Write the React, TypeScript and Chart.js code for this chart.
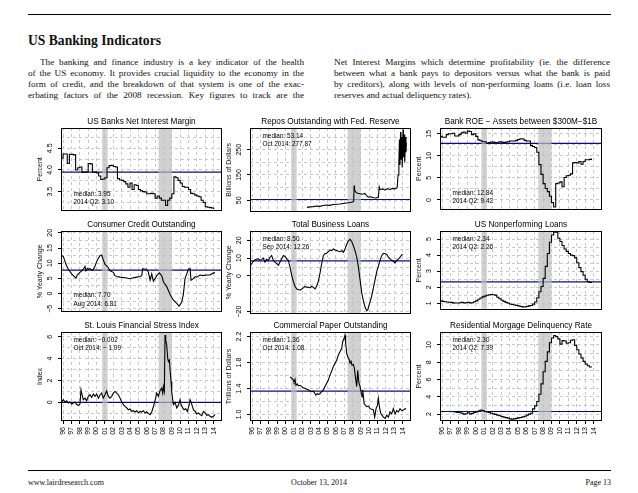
import React, { useEffect, useRef } from "react";
import { Chart, registerables } from "chart.js";
Chart.register(...registerables);

// ---------------- data ----------------
const tickYears = [1996, 1997, 1998, 1999, 2000, 2001, 2002, 2003, 2004, 2005, 2006, 2007, 2008, 2009, 2010, 2011, 2012, 2013, 2014];
const recessionStarts = [2001.17, 2007.92];
const recessionEnds = [2001.83, 2009.5];

// US Banks Net Interest Margin (quarterly, from 1996 Q2)
const nimStart = 1996.25;
const nimValues = [4.28, 4.37, 4.37, 4.15, 4.36, 4.36, 4.35, 4.0, 4.05, 4.07, 3.95, 3.95, 3.96, 4.15, 4.14, 3.95, 3.95, 3.93, 3.86, 3.78, 3.79, 3.82, 4.05, 4.1, 4.11, 4.08, 4.07, 3.8, 3.77, 3.76, 3.73, 3.68, 3.6, 3.7, 3.55, 3.66, 3.64, 3.55, 3.52, 3.5, 3.49, 3.45, 3.45, 3.46, 3.45, 3.35, 3.4, 3.35, 3.3, 3.3, 3.18, 3.3, 3.35, 3.45, 3.84, 3.82, 3.76, 3.7, 3.62, 3.6, 3.6, 3.55, 3.46, 3.45, 3.42, 3.4, 3.38, 3.3, 3.25, 3.15, 3.14, 3.13, 3.12, 3.1];
const nimYLabels = [3.5, 4.0, 4.5];

// Repos Outstanding with Fed. Reserve
const reposYears = [2003.05, 2003.4, 2003.8, 2004.2, 2004.6, 2005.0, 2005.4, 2005.8, 2006.2, 2006.6, 2007.0, 2007.4, 2007.8, 2008.2, 2008.5, 2008.65, 2008.7, 2008.75, 2008.9, 2009.1, 2009.4, 2009.7, 2010.0, 2010.2, 2010.4, 2010.7, 2011.0, 2011.3, 2011.6, 2011.7, 2011.8, 2012.1, 2012.4, 2012.7, 2013.0, 2013.3, 2013.6, 2013.85, 2013.95, 2014.05, 2014.12, 2014.18, 2014.25, 2014.3, 2014.4, 2014.45, 2014.55, 2014.6, 2014.7, 2014.75, 2014.85, 2014.9, 2014.95];
const reposValues = [22, 24, 25, 27, 26, 29, 31, 30, 33, 34, 35, 37, 39, 41, 43, 46, 108, 92, 82, 78, 76, 74, 77, 68, 62, 64, 60, 59, 62, 103, 92, 95, 91, 96, 93, 97, 95, 100, 150, 200, 290, 190, 320, 210, 300, 180, 330, 220, 310, 200, 300, 240, 278];
const reposYLabels = [50, 150, 250];

// Bank ROE - Assets between $300M-$1B (quarterly)
const roeStart = 1996.25;
const roeValues = [14.4, 14.2, 14.2, 14.8, 15.0, 15.0, 15.1, 14.5, 14.5, 14.8, 15.2, 15.4, 15.1, 15.6, 15.5, 14.8, 15.0, 14.4, 13.6, 13.4, 13.2, 13.2, 12.85, 13.0, 13.1, 13.1, 13.0, 13.0, 13.2, 13.1, 13.0, 13.1, 13.2, 13.35, 13.35, 13.35, 13.5, 13.7, 13.85, 13.8, 13.5, 13.35, 13.35, 12.3, 12.1, 11.9, 10.8, 8.0, 5.8, 3.7, 2.6, 1.9, 0.85, -0.6, -1.6, 3.7, 3.85, 4.1, 3.0, 5.1, 5.5, 5.6, 5.9, 8.4, 8.5, 8.4, 8.7, 8.1, 8.7, 9.1, 9.1, 9.2, 9.42];
const roeYLabels = [0, 5, 10, 15];

// Consumer Credit Outstanding (% yearly change)
const ccYears = [1996.25, 1996.53, 1996.73, 1996.93, 1997.13, 1997.33, 1997.53, 1997.73, 1997.92, 1998.04, 1998.2, 1998.44, 1998.72, 1998.92, 1999.12, 1999.24, 1999.4, 1999.52, 1999.72, 1999.92, 2000.12, 2000.32, 2000.52, 2000.72, 2000.92, 2001.11, 2001.31, 2001.51, 2001.71, 2001.91, 2002.11, 2002.51, 2002.71, 2002.91, 2003.31, 2003.71, 2004.1, 2004.5, 2004.9, 2005.3, 2005.7, 2005.9, 2006.02, 2006.3, 2006.5, 2006.7, 2006.9, 2007.1, 2007.29, 2007.49, 2007.69, 2008.01, 2008.29, 2008.49, 2008.89, 2009.29, 2009.69, 2010.09, 2010.36, 2010.68, 2010.88, 2011.08, 2011.28, 2011.48, 2011.68, 2011.8, 2012.08, 2012.28, 2012.48, 2012.88, 2013.28, 2013.67, 2014.07, 2014.47, 2014.67];
const ccValues = [12.7, 12.2, 10.6, 9.1, 8.0, 7.2, 6.5, 5.9, 5.4, 5.1, 6.1, 6.8, 7.5, 8.0, 8.9, 7.5, 8.3, 8.0, 8.2, 7.7, 8.0, 9.1, 10.6, 11.7, 12.5, 12.7, 11.1, 9.6, 9.1, 8.5, 7.5, 7.0, 5.9, 5.6, 5.4, 5.3, 5.1, 4.9, 5.2, 5.4, 5.6, 5.9, 8.2, 8.0, 8.0, 7.0, 4.4, 6.5, 4.1, 4.9, 5.9, 6.8, 5.9, 3.9, 2.3, -0.3, -2.2, -3.2, -4.1, -2.9, -0.3, 4.9, 6.5, 8.0, 8.3, 4.4, 4.9, 5.6, 5.4, 6.1, 5.9, 6.1, 6.1, 6.8, 6.81];
const ccYLabels = [-5, 0, 5, 10, 15, 20];

// Total Business Loans (% yearly change)
const blYears = [1996.33, 1996.57, 1996.85, 1997.25, 1997.45, 1997.65, 1997.84, 1998.04, 1998.24, 1998.44, 1998.64, 1998.84, 1999.04, 1999.24, 1999.44, 1999.64, 1999.84, 2000.04, 2000.24, 2000.44, 2000.64, 2000.84, 2001.03, 2001.23, 2001.43, 2001.63, 2001.83, 2002.03, 2002.23, 2002.43, 2002.63, 2002.83, 2003.03, 2003.23, 2003.43, 2003.63, 2003.83, 2004.03, 2004.22, 2004.42, 2004.62, 2004.82, 2005.02, 2005.22, 2005.42, 2005.62, 2005.82, 2006.02, 2006.22, 2006.42, 2006.62, 2006.82, 2007.02, 2007.22, 2007.41, 2007.61, 2007.81, 2008.01, 2008.21, 2008.41, 2008.61, 2008.81, 2009.01, 2009.21, 2009.41, 2009.61, 2009.81, 2010.01, 2010.21, 2010.33, 2010.52, 2010.8, 2011.0, 2011.2, 2011.4, 2011.6, 2011.8, 2012.0, 2012.2, 2012.4, 2012.6, 2012.8, 2012.99, 2013.19, 2013.39, 2013.59, 2013.79, 2014.0, 2014.19, 2014.39, 2014.51];
const blValues = [6.0, 7.8, 9.1, 9.6, 8.7, 9.3, 10.0, 7.8, 9.3, 8.7, 10.5, 11.5, 8.7, 7.8, 6.9, 6.0, 7.8, 9.6, 11.5, 10.9, 9.6, 8.7, 5.1, 0.5, -3.1, -5.8, -7.3, -7.6, -8.0, -7.3, -6.7, -5.8, -6.4, -6.2, -6.7, -5.8, -6.4, -7.3, -5.8, -3.1, 1.5, 6.9, 11.5, 12.4, 12.7, 13.6, 14.5, 14.2, 15.1, 14.5, 14.2, 13.8, 13.6, 14.2, 13.3, 15.1, 17.8, 19.6, 20.5, 19.3, 16.9, 14.2, 10.5, 5.1, -2.2, -9.5, -14.0, -17.6, -19.5, -19.1, -15.8, -11.3, -6.7, -2.2, 2.4, 5.5, 8.7, 11.5, 12.7, 12.4, 12.0, 10.5, 9.6, 8.7, 8.2, 7.3, 8.7, 9.6, 10.5, 11.8, 12.26];
const blYLabels = [-20, 0, 10, 20];

// US Nonperforming Loans (quarterly)
const nplStart = 1996.25;
const nplValues = [1.15, 1.12, 1.1, 1.08, 1.07, 1.06, 1.03, 1.02, 1.02, 1.04, 1.06, 1.03, 1.04, 1.06, 1.03, 1.04, 1.1, 1.15, 1.25, 1.33, 1.4, 1.45, 1.5, 1.53, 1.54, 1.53, 1.51, 1.38, 1.28, 1.19, 1.12, 1.06, 1.02, 0.96, 0.93, 0.9, 0.87, 0.84, 0.8, 0.78, 0.77, 0.8, 0.84, 0.86, 0.95, 1.08, 1.35, 1.72, 2.05, 2.55, 3.3, 4.1, 4.8, 5.25, 5.42, 5.42, 5.05, 4.85, 4.6, 4.38, 4.23, 4.1, 4.0, 3.97, 3.83, 3.52, 3.22, 2.97, 2.75, 2.5, 2.35, 2.3, 2.26];
const nplYLabels = [1, 2, 3, 4, 5];

// St. Louis Financial Stress Index
const stressYears = [1996.33, 1996.53, 1996.73, 1996.93, 1997.13, 1997.33, 1997.53, 1997.73, 1997.92, 1998.12, 1998.32, 1998.52, 1998.64, 1998.72, 1998.92, 1999.12, 1999.32, 1999.52, 1999.72, 1999.92, 2000.12, 2000.32, 2000.52, 2000.72, 2000.92, 2001.11, 2001.31, 2001.51, 2001.71, 2001.91, 2002.11, 2002.31, 2002.51, 2002.71, 2002.91, 2003.11, 2003.31, 2003.51, 2003.71, 2003.91, 2004.1, 2004.3, 2004.5, 2004.7, 2004.9, 2005.1, 2005.3, 2005.5, 2005.7, 2005.9, 2006.1, 2006.3, 2006.5, 2006.7, 2006.9, 2007.1, 2007.37, 2007.57, 2007.69, 2007.89, 2008.09, 2008.29, 2008.41, 2008.49, 2008.61, 2008.69, 2008.77, 2008.89, 2009.01, 2009.09, 2009.21, 2009.29, 2009.41, 2009.49, 2009.61, 2009.69, 2009.89, 2010.09, 2010.29, 2010.48, 2010.6, 2010.8, 2010.96, 2011.16, 2011.36, 2011.56, 2011.68, 2011.8, 2011.96, 2012.08, 2012.28, 2012.48, 2012.68, 2012.88, 2013.08, 2013.28, 2013.48, 2013.67, 2013.87, 2014.07, 2014.27, 2014.47, 2014.67];
const stressValues = [0.03, 0.24, 0.03, 0.15, -0.06, 0.03, -0.15, -0.06, 0.03, -0.2, -0.27, -0.15, 1.15, 0.85, 0.24, 0.39, 0.15, 0.55, 0.7, 0.45, 0.76, 0.55, 0.76, 0.39, 0.7, 0.85, 0.39, 0.7, 1.06, 0.55, 0.39, 0.55, 0.85, 1.0, 0.85, 0.7, 0.39, 0.03, -0.2, -0.36, -0.5, -0.67, -0.6, -0.82, -0.76, -0.88, -0.76, -0.97, -0.82, -0.88, -0.76, -0.97, -0.88, -1.0, -1.12, -0.88, -0.2, 0.4, 0.85, 0.55, 1.06, 1.3, 0.85, 1.45, 1.0, 6.15, 5.7, 5.24, 4.0, 3.73, 3.88, 2.97, 1.9, 1.0, 0.24, -0.2, 0.0, -0.5, -0.27, 0.24, -0.2, -0.5, -0.67, -0.58, -0.82, -0.27, 0.24, 0.03, -0.36, -0.67, -0.82, -1.06, -0.97, -1.12, -1.21, -0.82, -0.97, -1.18, -1.12, -1.27, -1.36, -1.27, -1.09];
const stressYLabels = [0, 2, 4, 6];

// Commercial Paper Outstanding (trillions)
const cpYears = [2001.03, 2001.23, 2001.43, 2001.51, 2001.63, 2001.75, 2001.91, 2002.03, 2002.23, 2002.43, 2002.63, 2002.83, 2003.03, 2003.23, 2003.43, 2003.63, 2003.83, 2004.03, 2004.14, 2004.3, 2004.42, 2004.62, 2004.82, 2005.02, 2005.22, 2005.42, 2005.62, 2005.82, 2006.02, 2006.22, 2006.42, 2006.62, 2006.82, 2007.02, 2007.22, 2007.33, 2007.49, 2007.61, 2007.69, 2007.81, 2007.93, 2008.13, 2008.21, 2008.33, 2008.45, 2008.61, 2008.73, 2008.85, 2009.01, 2009.13, 2009.25, 2009.41, 2009.53, 2009.65, 2009.73, 2009.89, 2010.05, 2010.21, 2010.41, 2010.6, 2010.8, 2011.0, 2011.16, 2011.32, 2011.48, 2011.6, 2011.72, 2011.88, 2012.04, 2012.2, 2012.4, 2012.6, 2012.8, 2012.99, 2013.19, 2013.39, 2013.59, 2013.79, 2013.99, 2014.19, 2014.39, 2014.59, 2014.79, 2014.91];
const cpValues = [1.58, 1.56, 1.53, 1.5, 1.54, 1.45, 1.47, 1.44, 1.45, 1.43, 1.41, 1.4, 1.39, 1.38, 1.36, 1.35, 1.36, 1.32, 1.3, 1.32, 1.31, 1.32, 1.35, 1.38, 1.43, 1.48, 1.53, 1.61, 1.67, 1.74, 1.79, 1.84, 1.92, 1.97, 2.02, 2.12, 2.17, 2.22, 2.1, 1.94, 1.89, 1.84, 1.79, 1.82, 1.76, 1.77, 1.71, 1.58, 1.43, 1.68, 1.5, 1.43, 1.35, 1.27, 1.38, 1.17, 1.14, 1.12, 1.13, 1.09, 1.08, 1.07, 0.96, 1.09, 1.14, 1.25, 1.12, 1.02, 0.99, 0.96, 0.94, 0.99, 0.96, 1.04, 1.01, 1.09, 1.01, 1.06, 1.04, 1.09, 1.06, 1.07, 1.09, 1.08];
const cpYLabels = [1.0, 1.4, 1.8, 2.2];

// Residential Mortgage Delinquency Rate (quarterly, from 1997 Q4)
const delStart = 1997.75;
const delValues = [2.27, 2.24, 2.2, 2.22, 2.1, 2.0, 2.04, 2.15, 2.03, 2.08, 2.19, 2.25, 2.35, 2.48, 2.42, 2.3, 2.25, 2.2, 2.1, 2.03, 1.97, 1.88, 1.8, 1.72, 1.65, 1.59, 1.53, 1.45, 1.42, 1.45, 1.5, 1.56, 1.6, 1.68, 1.75, 1.88, 2.0, 2.1, 2.6, 2.95, 3.45, 4.3, 5.5, 6.9, 8.1, 9.2, 10.25, 10.8, 11.1, 10.96, 10.7, 10.1, 10.5, 10.45, 10.2, 10.25, 10.55, 10.6, 9.95, 9.45, 8.95, 8.5, 8.1, 7.8, 7.6, 7.45, 7.39];
const delYLabels = [2, 4, 6, 8, 10];

// medians shown on each panel
const medians = { nim: 3.95, repos: 53.14, roe: 12.84, cc: 7.7, bl: 8.5, npl: 2.34, stress: -0.002, cp: 1.36, del: 2.3 };

// ---------------- helpers / styling ----------------
const SANS = "'Liberation Sans', Arial, Helvetica, sans-serif";
const SERIF = "'Liberation Serif', 'Times New Roman', serif";
const X_MIN = 1996.25;
const X_MAX = 2015.5;
const L = 30, T = 16, R = 4;
const GRID = "#c8c8c8";
const BAND = "rgba(190,190,190,0.7)";
const NAVY = "#0c0c82";

function quarters(start: number, n: number) {
  const out: number[] = [];
  for (let i = 0; i < n; i++) out.push(start + i * 0.25);
  return out;
}

function measureMax(texts: string[], font: string) {
  const c = document.createElement("canvas").getContext("2d");
  if (!c) return 8;
  c.font = font;
  let m = 0;
  for (const t of texts) m = Math.max(m, c.measureText(t).width);
  return m;
}

const COLS = [61, 250, 440];
const WIDTHS = [161, 161, 162];
const ROWS = [128, 231, 332];
const HEIGHTS = [86, 85, 89];

type Cfg = {
  title: string; yTitle: string; col: number; row: number;
  yMin: number; yMax: number; yLabels: number[]; yStep: number; decimals: number;
  xs: number[]; ys: number[]; stepped: boolean; median: number;
  notes: string[]; notePos: "top" | "bottom";
};

const panels: Cfg[] = [
  { title: "US Banks Net Interest Margin", yTitle: "Percent", col: 0, row: 0, yMin: 3.06, yMax: 4.97, yLabels: nimYLabels, yStep: 0.25, decimals: 1,
    xs: quarters(nimStart, nimValues.length), ys: nimValues, stepped: true, median: medians.nim, notes: ["median: 3.95", "2014 Q2: 3.10"], notePos: "bottom" },
  { title: "Repos Outstanding with Fed. Reserve", yTitle: "Billions of Dollars", col: 1, row: 0, yMin: 5, yMax: 336, yLabels: reposYLabels, yStep: 50, decimals: 0,
    xs: reposYears, ys: reposValues, stepped: false, median: medians.repos, notes: ["median: 53.14", "Oct 2014: 277.87"], notePos: "top" },
  { title: "Bank ROE \u2212 Assets between $300M\u2212$1B", yTitle: "Percent", col: 2, row: 0, yMin: -2.2, yMax: 16.3, yLabels: roeYLabels, yStep: 2.5, decimals: 0,
    xs: quarters(roeStart, roeValues.length), ys: roeValues, stepped: true, median: medians.roe, notes: ["median: 12.84", "2014 Q2: 9.42"], notePos: "bottom" },
  { title: "Consumer Credit Outstanding", yTitle: "% Yearly Change", col: 0, row: 1, yMin: -6, yMax: 20.6, yLabels: ccYLabels, yStep: 2.5, decimals: 0,
    xs: ccYears, ys: ccValues, stepped: false, median: medians.cc, notes: ["median: 7.70", "Aug 2014: 6.81"], notePos: "bottom" },
  { title: "Total Business Loans", yTitle: "% Yearly Change", col: 1, row: 1, yMin: -21.2, yMax: 25.2, yLabels: blYLabels, yStep: 5, decimals: 0,
    xs: blYears, ys: blValues, stepped: false, median: medians.bl, notes: ["median: 8.50", "Sep 2014: 12.26"], notePos: "top" },
  { title: "US Nonperforming Loans", yTitle: "Percent", col: 2, row: 1, yMin: 0.6, yMax: 5.5, yLabels: nplYLabels, yStep: 0.5, decimals: 0,
    xs: quarters(nplStart, nplValues.length), ys: nplValues, stepped: true, median: medians.npl, notes: ["median: 2.34", "2014 Q2: 2.26"], notePos: "top" },
  { title: "St. Louis Financial Stress Index", yTitle: "Index", col: 0, row: 2, yMin: -1.7, yMax: 6.43, yLabels: stressYLabels, yStep: 1, decimals: 0,
    xs: stressYears, ys: stressValues, stepped: false, median: medians.stress, notes: ["median: \u22120.002", "Oct 2014: \u2212 1.09"], notePos: "top" },
  { title: "Commercial Paper Outstanding", yTitle: "Trillions of Dollars", col: 1, row: 2, yMin: 0.9, yMax: 2.27, yLabels: cpYLabels, yStep: 0.2, decimals: 1,
    xs: cpYears, ys: cpValues, stepped: false, median: medians.cp, notes: ["median: 1.36", "Oct 2014: 1.08"], notePos: "top" },
  { title: "Residential Morgage Delinquency Rate", yTitle: "Percent", col: 2, row: 2, yMin: 1.2, yMax: 11.5, yLabels: delYLabels, yStep: 1, decimals: 0,
    xs: quarters(delStart, delValues.length), ys: delValues, stepped: true, median: medians.del, notes: ["median: 2.30", "2014 Q2: 7.39"], notePos: "top" },
];

function fmtTick(v: number, d: number) {
  const s = v.toFixed(d);
  return s.charAt(0) === "-" ? "\u2212" + s.slice(1) : s;
}

function Panel({ cfg }: { cfg: Cfg }) {
  const ref = useRef<HTMLCanvasElement | null>(null);
  const showX = cfg.row === 2;
  const B = showX ? 24 : 4;
  const pw = WIDTHS[cfg.col], ph = HEIGHTS[cfg.row];
  const W = pw + L + R, H = ph + T + B;

  useEffect(() => {
    const canvas = ref.current;
    if (!canvas) return;
    const isLabel = (v: number) => cfg.yLabels.some((l) => Math.abs(l - v) < 1e-6);
    const widest = measureMax(cfg.yLabels.map((v) => fmtTick(v, cfg.decimals)), `7px ${SANS}`);
    const yPad = Math.max(0, 8 - widest / 2);
    const series = cfg.xs.map((x, i) => ({ x, y: cfg.ys[i] }));
    const medianLine = [{ x: X_MIN, y: cfg.median }, { x: X_MAX, y: cfg.median }];

    const deco = {
      id: "deco",
      afterDatasetDraw(chart: any, args: any) {
        if (args.index !== 1) return;
        const { ctx, chartArea: a, scales } = chart;
        ctx.save();
        ctx.fillStyle = BAND;
        for (let i = 0; i < recessionStarts.length; i++) {
          const x1 = scales.x.getPixelForValue(recessionStarts[i]);
          const x2 = scales.x.getPixelForValue(recessionEnds[i]);
          ctx.fillRect(x1, a.top, x2 - x1, a.bottom - a.top);
        }
        ctx.restore();
      },
      afterDraw(chart: any) {
        const { ctx, chartArea: a } = chart;
        ctx.save();
        ctx.strokeStyle = "#000";
        ctx.lineWidth = 1;
        ctx.strokeRect(Math.round(a.left) + 0.5, Math.round(a.top) + 0.5, Math.round(a.right - a.left) - 1, Math.round(a.bottom - a.top) - 1);
        ctx.fillStyle = "#000";
        ctx.textBaseline = "middle";
        ctx.textAlign = "center";
        ctx.font = `8.2px ${SANS}`;
        ctx.fillText(cfg.title, (a.left + a.right) / 2, a.top - 6.5);
        ctx.textAlign = "left";
        ctx.font = `6.4px ${SANS}`;
        cfg.notes.forEach((t, i) => {
          const y = cfg.notePos === "top" ? a.top + 8.5 + i * 8 : a.bottom - 16.5 + i * 8.5;
          ctx.fillText(t, a.left + 12.5, y);
        });
        ctx.restore();
      },
    };

    const chart = new Chart(canvas, {
      type: "line",
      data: {
        datasets: [
          { data: series, borderColor: "#000", borderWidth: 1.1, pointRadius: 0, fill: false, tension: 0, stepped: cfg.stepped, order: 1 } as any,
          { data: medianLine, borderColor: NAVY, borderWidth: 1.2, pointRadius: 0, fill: false, order: 2 } as any,
        ],
      },
      options: {
        animation: false,
        responsive: false,
        devicePixelRatio: 1,
        events: [],
        layout: { padding: { top: T, right: R, left: 0, bottom: 0 } },
        plugins: { legend: { display: false }, tooltip: { enabled: false }, title: { display: false } },
        scales: {
          x: {
            type: "linear",
            min: X_MIN,
            max: X_MAX,
            afterBuildTicks: (s: any) => { s.ticks = tickYears.map((y) => ({ value: y + 0.5 })); },
            afterFit: (s: any) => { s.height = B; },
            ticks: {
              display: showX, autoSkip: false, minRotation: 90, maxRotation: 90, padding: 3, color: "#000",
              font: { family: SANS, size: 7 },
              callback: (v: any) => String(Math.round(Number(v) - 0.5)).slice(2),
            },
            grid: { color: GRID, lineWidth: 1, drawTicks: showX, tickLength: 3, tickColor: "#000", tickWidth: 1 },
            border: { display: false, dash: [3, 3] },
          },
          y: {
            type: "linear",
            min: cfg.yMin,
            max: cfg.yMax,
            afterBuildTicks: (s: any) => {
              const t: any[] = [];
              const k0 = Math.ceil(cfg.yMin / cfg.yStep - 1e-9);
              for (let k = k0; k * cfg.yStep <= cfg.yMax + 1e-9; k++) t.push({ value: +(k * cfg.yStep).toFixed(6) });
              s.ticks = t;
            },
            afterFit: (s: any) => { s.width = L; },
            ticks: {
              autoSkip: false, minRotation: 90, maxRotation: 90, crossAlign: "center", padding: yPad, color: "#000",
              font: { family: SANS, size: 7 },
              callback: (v: any) => (isLabel(Number(v)) ? fmtTick(Number(v), cfg.decimals) : ""),
            },
            grid: {
              color: GRID, lineWidth: 1, drawTicks: true, tickLength: 3, tickWidth: 1,
              tickColor: (c: any) => (c.tick && isLabel(c.tick.value) ? "#000" : "rgba(0,0,0,0)"),
            },
            border: { display: false, dash: [3, 3] },
            title: { display: true, text: cfg.yTitle, color: "#111", font: { family: SANS, size: 7 }, padding: { top: 4.8, bottom: 0 } },
          },
        },
      } as any,
      plugins: [deco as any],
    });
    return () => chart.destroy();
  }, [cfg]);

  return (
    <canvas
      ref={ref}
      width={W}
      height={H}
      style={{ position: "absolute", left: COLS[cfg.col] - L, top: ROWS[cfg.row] - T, width: W, height: H }}
    />
  );
}

const leftLines = [
  "The banking and finance industry is a key indicator of the health",
  "of the US economy. It provides crucial liquidity to the economy in the",
  "form of credit, and the breakdown of that system is one of the exac-",
  "erbating factors of the 2008 recession.  Key figures to track are the",
];
const rightLines = [
  "Net Interest Margins which determine profitability (ie. the difference",
  "between what a bank pays to depositors versus what the bank is paid",
  "by creditors), along with levels of non-performing loans (i.e. loan loss",
  "reserves and actual deliquency rates).",
];
const LINE_TOPS = [56.5, 67.5, 78.5, 89.5];

export default function App() {
  const lineStyle = (left: number, top: number, width: number, justify: boolean, indent: number): React.CSSProperties => ({
    position: "absolute", left, top, width, fontSize: 9.2, lineHeight: "11px", height: 11,
    textAlign: justify ? "justify" : "left", textAlignLast: justify ? "justify" : "left", textIndent: indent,
    fontFamily: SERIF, color: "#111", overflow: "hidden",
  } as any);
  return (
    <div style={{ position: "fixed", left: 0, top: 0, width: 638, height: 493, background: "#fff", overflow: "hidden" }}>
      <div style={{ position: "absolute", left: 28, top: 13.5, width: 583, height: 1.5, background: "#000" }} />
      <div style={{ position: "absolute", left: 28, top: 34, fontFamily: SERIF, fontWeight: "bold", fontSize: 13.6, lineHeight: "14px", color: "#111", whiteSpace: "nowrap" }}>
        US Banking Indicators
      </div>
      {leftLines.map((t, i) => (
        <div key={"l" + i} style={lineStyle(28, LINE_TOPS[i], 276, true, i === 0 ? 12 : 0)}>{t}</div>
      ))}
      {rightLines.map((t, i) => (
        <div key={"r" + i} style={lineStyle(334, LINE_TOPS[i], 276, i < 3, 0)}>{t}</div>
      ))}
      {panels.map((p, i) => (
        <Panel key={i} cfg={p} />
      ))}
      <div style={{ position: "absolute", left: 28, top: 469.5, width: 583, height: 1.3, background: "#000" }} />
      <div style={{ position: "absolute", left: 28, top: 478, fontFamily: SERIF, fontSize: 8, lineHeight: "10px", color: "#111" }}>www.lairdresearch.com</div>
      <div style={{ position: "absolute", left: 219, width: 200, textAlign: "center", top: 478, fontFamily: SERIF, fontSize: 8, lineHeight: "10px", color: "#111" }}>October 13, 2014</div>
      <div style={{ position: "absolute", left: 410, width: 201, textAlign: "right", top: 478, fontFamily: SERIF, fontSize: 8, lineHeight: "10px", color: "#111" }}>Page 13</div>
    </div>
  );
}
